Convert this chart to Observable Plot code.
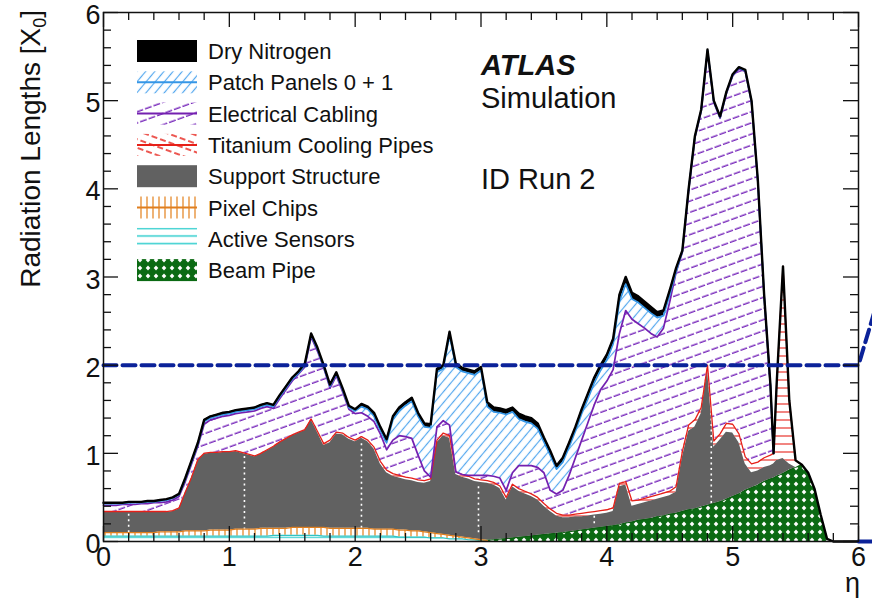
<!DOCTYPE html>
<html><head><meta charset="utf-8">
<script src="https://cdn.jsdelivr.net/npm/d3@7"></script>
<script src="https://cdn.jsdelivr.net/npm/@observablehq/plot@0.6"></script>
<style>html,body{margin:0;padding:0;background:#fff;overflow:hidden}</style>
</head><body><div id="chart"></div>
<script>
// ---- DATA (cumulative top edge of each material, radiation lengths X0, vs eta) ----
const eta = [
0,0.05,0.1,0.15,0.2,0.25,0.3,0.35,0.4,0.45,0.5,0.55,0.6,0.65,0.7,0.75,0.8,0.85,0.9,0.95,
1,1.05,1.1,1.15,1.2,1.25,1.3,1.35,1.4,1.45,1.5,1.55,1.6,1.65,1.7,1.75,1.8,1.85,1.9,1.95,
2,2.05,2.1,2.15,2.2,2.25,2.3,2.35,2.4,2.45,2.5,2.55,2.6,2.65,2.7,2.75,2.8,2.85,2.9,2.95,
3,3.05,3.1,3.15,3.2,3.25,3.3,3.35,3.4,3.45,3.5,3.55,3.6,3.65,3.7,3.75,3.8,3.85,3.9,3.95,
4,4.05,4.1,4.15,4.2,4.25,4.3,4.35,4.4,4.45,4.5,4.55,4.6,4.65,4.7,4.75,4.8,4.85,4.9,4.95,
5,5.05,5.1,5.15,5.2,5.25,5.3,5.325,5.35,5.4,5.45,5.5,5.55,5.6,5.65,5.7,5.75,5.8,5.85,5.9,5.95,
6];

const beamPipe = [
0,0,0,0,0,0,0,0,0,0,0,0,0,0,0,0,0,0,0,0,
0,0,0,0,0,0,0,0,0,0,0,0,0,0,0,0,0,0,0,0,
0,0,0,0,0,0,0,0,0,0,0,0,0,0,0,0,0,0,0,0.003,
0.007,0.013,0.02,0.026,0.032,0.04,0.047,0.055,0.062,0.07,0.078,0.086,0.094,0.10,0.11,0.12,0.13,0.14,0.15,0.16,
0.17,0.18,0.19,0.21,0.22,0.24,0.25,0.26,0.28,0.29,0.31,0.32,0.34,0.36,0.37,0.39,0.41,0.43,0.45,0.48,
0.51,0.54,0.58,0.61,0.64,0.68,0.71,0.72,0.74,0.77,0.81,0.84,0.87,0.78,0.60,0.30,0.03,0,0,0,0,
0];

const activeSensors = [
0.06,0.06,0.06,0.06,0.06,0.06,0.06,0.06,0.06,0.06,0.06,0.06,0.06,0.06,0.06,0.06,0.06,0.06,0.06,0.06,
0.06,0.06,0.06,0.06,0.06,0.06,0.06,0.07,0.07,0.07,0.07,0.07,0.07,0.07,0.07,0.06,0.06,0.06,0.06,0.06,
0.06,0.06,0.06,0.06,0.06,0.06,0.06,0.05,0.05,0.05,0.05,0.05,0.04,0.04,0.04,0.03,0.03,0.03,0.02,0.02,
0.015,0.013,0.02,0.026,0.032,0.04,0.047,0.055,0.062,0.07,0.078,0.086,0.094,0.10,0.11,0.12,0.13,0.14,0.15,0.16,
0.17,0.18,0.19,0.21,0.22,0.24,0.25,0.26,0.28,0.29,0.31,0.32,0.34,0.36,0.37,0.39,0.41,0.43,0.45,0.48,
0.51,0.54,0.58,0.61,0.64,0.68,0.71,0.72,0.74,0.77,0.81,0.84,0.87,0.78,0.60,0.30,0.03,0,0,0,0,
0];

const pixelChips = [
0.10,0.10,0.10,0.10,0.10,0.10,0.10,0.10,0.10,0.11,0.11,0.11,0.11,0.12,0.12,0.12,0.12,0.13,0.13,0.13,
0.13,0.14,0.14,0.14,0.14,0.15,0.15,0.15,0.15,0.15,0.16,0.16,0.16,0.16,0.16,0.16,0.15,0.15,0.15,0.15,
0.15,0.15,0.15,0.14,0.14,0.14,0.14,0.13,0.13,0.12,0.12,0.11,0.10,0.09,0.08,0.07,0.06,0.05,0.04,0.03,
0.02,0.013,0.02,0.026,0.032,0.04,0.047,0.055,0.062,0.07,0.078,0.086,0.094,0.10,0.11,0.12,0.13,0.14,0.15,0.16,
0.17,0.18,0.19,0.21,0.22,0.24,0.25,0.26,0.28,0.29,0.31,0.32,0.34,0.36,0.37,0.39,0.41,0.43,0.45,0.48,
0.51,0.54,0.58,0.61,0.64,0.68,0.71,0.72,0.74,0.77,0.81,0.84,0.87,0.78,0.60,0.30,0.03,0,0,0,0,
0];

const supportStructure = [
0.33,0.33,0.33,0.33,0.33,0.33,0.33,0.33,0.33,0.33,0.33,0.34,0.37,0.55,0.72,0.92,0.99,1.00,1.00,1.01,
1.01,1.02,1.00,0.98,0.96,0.99,1.03,1.07,1.12,1.16,1.20,1.23,1.26,1.38,1.24,1.09,1.12,1.22,1.21,1.16,
1.13,1.17,1.13,1.05,0.88,0.78,0.74,0.72,0.70,0.69,0.67,0.66,0.68,1.12,1.20,1.17,0.76,0.73,0.71,0.68,
0.67,0.66,0.64,0.60,0.47,0.62,0.57,0.54,0.51,0.47,0.40,0.34,0.29,0.27,0.27,0.28,0.28,0.29,0.30,0.31,
0.32,0.34,0.62,0.64,0.40,0.42,0.44,0.46,0.48,0.50,0.52,0.56,0.95,1.25,1.30,1.45,1.95,1.07,1.15,1.24,
1.23,1.12,0.88,0.78,0.80,0.84,0.86,0.88,0.92,0.94,0.88,0.84,0.87,0.78,0.60,0.30,0.03,0,0,0,0,
0];

const coolingPipes = [
0.34,0.34,0.34,0.34,0.34,0.34,0.34,0.34,0.34,0.34,0.34,0.35,0.38,0.56,0.73,0.93,1.00,1.01,1.01,1.02,
1.02,1.03,1.01,0.99,0.97,1.00,1.04,1.08,1.13,1.17,1.21,1.24,1.27,1.39,1.25,1.11,1.15,1.24,1.23,1.18,
1.15,1.19,1.15,1.07,0.91,0.81,0.77,0.75,0.73,0.72,0.70,0.69,0.71,1.15,1.23,1.20,0.79,0.76,0.74,0.71,
0.70,0.69,0.67,0.63,0.50,0.65,0.60,0.57,0.54,0.50,0.43,0.37,0.32,0.30,0.30,0.31,0.32,0.33,0.34,0.35,
0.36,0.38,0.66,0.68,0.46,0.47,0.49,0.51,0.53,0.55,0.57,0.62,1.02,1.32,1.38,1.52,2.00,1.14,1.22,1.34,
1.33,1.22,0.96,0.88,0.90,0.95,0.98,1.00,1.80,3.12,1.60,0.92,0.87,0.78,0.60,0.30,0.03,0,0,0,0,
0];

const electricalCabling = [
0.41,0.41,0.41,0.42,0.42,0.42,0.43,0.43,0.44,0.44,0.45,0.47,0.51,0.68,0.88,1.08,1.33,1.38,1.40,1.42,
1.43,1.45,1.46,1.47,1.48,1.51,1.53,1.51,1.62,1.72,1.82,1.90,1.98,2.32,2.16,1.97,1.74,1.88,1.70,1.50,
1.45,1.46,1.42,1.36,1.22,1.04,1.15,1.20,1.19,1.17,0.98,0.80,0.73,1.30,1.37,1.32,0.78,0.76,0.75,0.75,
0.75,0.75,0.74,0.72,0.58,0.78,0.86,0.86,0.86,0.84,0.78,0.58,0.54,0.58,0.75,0.95,1.15,1.35,1.55,1.72,
1.82,1.95,2.36,2.62,2.52,2.47,2.42,2.36,2.32,2.42,2.72,3.05,3.28,3.98,4.58,4.88,5.56,4.98,4.80,5.08,
5.28,5.36,5.33,4.98,4.08,2.78,1.76,1.00,1.80,3.12,1.60,0.92,0.87,0.78,0.60,0.30,0.03,0,0,0,0,
0];

const patchPanels = [
0.43,0.43,0.43,0.43,0.44,0.44,0.44,0.45,0.45,0.46,0.47,0.49,0.53,0.70,0.90,1.10,1.36,1.40,1.42,1.44,
1.45,1.47,1.48,1.49,1.50,1.53,1.55,1.53,1.64,1.74,1.84,1.91,2.00,2.34,2.18,1.98,1.76,1.90,1.72,1.52,
1.48,1.53,1.50,1.42,1.26,1.12,1.38,1.48,1.54,1.59,1.42,1.30,1.29,1.92,1.96,2.34,1.98,1.93,1.91,1.89,
1.94,1.53,1.47,1.46,1.44,1.47,1.39,1.36,1.34,1.28,1.13,0.98,0.82,0.90,1.07,1.25,1.45,1.62,1.80,1.94,
2.06,2.24,2.72,2.92,2.75,2.71,2.65,2.59,2.54,2.56,2.80,3.06,3.29,3.99,4.59,4.89,5.57,4.99,4.81,5.09,
5.29,5.37,5.34,4.99,4.09,2.79,1.77,1.00,1.80,3.12,1.60,0.92,0.87,0.78,0.60,0.30,0.03,0,0,0,0,
0];

const dryNitrogen = [
0.44,0.44,0.44,0.44,0.45,0.45,0.45,0.46,0.46,0.47,0.48,0.50,0.54,0.72,0.92,1.12,1.38,1.42,1.44,1.46,
1.47,1.49,1.50,1.51,1.52,1.55,1.57,1.55,1.66,1.76,1.86,1.93,2.02,2.36,2.20,2.00,1.78,1.92,1.74,1.54,
1.50,1.56,1.53,1.46,1.30,1.16,1.42,1.52,1.58,1.63,1.46,1.34,1.33,1.96,2.00,2.38,2.02,1.97,1.95,1.93,
1.98,1.58,1.52,1.51,1.49,1.52,1.45,1.42,1.40,1.34,1.18,1.03,0.86,0.95,1.12,1.30,1.50,1.68,1.86,2.00,
2.12,2.30,2.80,3.00,2.82,2.78,2.72,2.66,2.60,2.62,2.85,3.10,3.30,4.00,4.60,4.90,5.58,5.00,4.82,5.10,
5.30,5.38,5.35,5.00,4.10,2.80,1.78,1.00,1.80,3.12,1.60,0.92,0.87,0.78,0.60,0.30,0.03,0,0,0,0,
0];

// white dotted gaps inside the support structure
const gapEta  = [0.2, 1.12, 2.05, 2.98, 3.9, 4.83];
const gapLow  = [0.10, 0.13, 0.15, 0.10, 0.20, 0.43];
const gapHigh = [0.32, 0.97, 1.11, 0.62, 0.29, 1.88];

// dashed limit line
const limitEta = [0, 6, 6.25];
const limitVal = [2, 2, 3.2];
const baseEta = [6, 6.3];
const baseVal = [0, 0];

const xMajor = [0,1,2,3,4,5,6];
const xMinor = [0.2,0.4,0.6,0.8,1.2,1.4,1.6,1.8,2.2,2.4,2.6,2.8,3.2,3.4,3.6,3.8,4.2,4.4,4.6,4.8,5.2,5.4,5.6,5.8];
const yMajor = [0,1,2,3,4,5,6];
const yMinor = [0.2,0.4,0.6,0.8,1.2,1.4,1.6,1.8,2.2,2.4,2.6,2.8,3.2,3.4,3.6,3.8,4.2,4.4,4.6,4.8,5.2,5.4,5.6,5.8];

const layerNames = ["Beam Pipe","Active Sensors","Pixel Chips","Support Structure","Titanium Cooling Pipes","Electrical Cabling","Patch Panels 0 + 1","Dry Nitrogen"];
const tops = [beamPipe, activeSensors, pixelChips, supportStructure, coolingPipes, electricalCabling, patchPanels, dryNitrogen];

// ---- styles ----
const fills   = ["url(#pBeam)","url(#pSens)","url(#pChip)","#616161","url(#pCool)","url(#pCab)","url(#pPatch)","#000"];
const strokes = ["#0a5a10","#30c4c4","#e07f1f",null,"#e62018","#7420b0","#3596e6","#000"];
const swidth  = [1, 1.2, 1.3, 0, 1.3, 1.7, 1.7, 2.4];

const W = 872, H = 601, mL = 103, mR = 14, mT = 12, mB = 60;
const pxX = (W - mL - mR) / 6, pxY = (H - mT - mB) / 6;
const majX = 15 / pxY, minX = 8 / pxY;   // tick lengths for x ticks (in y units)
const majY = 15 / pxX, minY = 8 / pxX;   // tick lengths for y ticks (in x units)

// cumulative (clamped) stacks
const cum = [];
tops.forEach((t, k) => {
  cum.push(t.map((v, i) => k === 0 ? v : Math.max(v, cum[k-1][i])));
});
const layers = cum.map((c, k) => eta.map((e, i) => ({eta: e, lo: k === 0 ? 0 : cum[k-1][i], hi: c[i]})));

const marks = [];
layers.forEach((rows, k) => {
  marks.push(Plot.areaY(rows, {x: "eta", y1: "lo", y2: "hi", fill: fills[k]}));
});
// gaps
marks.push(Plot.ruleX(gapEta, {x: d => d, y1: (d,i) => gapLow[i], y2: (d,i) => gapHigh[i], stroke: "white", strokeWidth: 1.6, strokeDasharray: "2,3.5"}));
layers.forEach((rows, k) => {
  if (!strokes[k]) return;
  const last = k === layers.length - 1;
  marks.push(Plot.line(rows, {
    x: "eta",
    y: last ? "hi" : (d, i) => {
      const prev = rows[i - 1], next = rows[i + 1];
      const has = r => r && r.hi - r.lo > 0.004;
      return (has(d) || has(prev) || has(next)) ? d.hi : NaN;
    },
    stroke: strokes[k], strokeWidth: swidth[k]
  }));
});
// limit lines
marks.push(Plot.line(limitEta, {x: d => d, y: (d,i) => limitVal[i], stroke: "#0b2299", strokeWidth: 4, strokeDasharray: "13,6"}));
marks.push(Plot.line(baseEta, {x: d => d, y: (d,i) => baseVal[i], stroke: "#0b2299", strokeWidth: 4, strokeDasharray: "13,6"}));
// ticks (inside, all four sides)
const tk = {stroke: "#111", strokeWidth: 1.3};
marks.push(Plot.ruleX(xMajor, {x: d => d, y1: 0, y2: majX, ...tk}));
marks.push(Plot.ruleX(xMinor, {x: d => d, y1: 0, y2: minX, ...tk}));
marks.push(Plot.ruleX(xMajor, {x: d => d, y1: 6, y2: 6 - majX, ...tk}));
marks.push(Plot.ruleX(xMinor, {x: d => d, y1: 6, y2: 6 - minX, ...tk}));
marks.push(Plot.ruleY(yMajor, {y: d => d, x1: 0, x2: majY, ...tk}));
marks.push(Plot.ruleY(yMinor, {y: d => d, x1: 0, x2: minY, ...tk}));
marks.push(Plot.ruleY(yMajor, {y: d => d, x1: 6, x2: 6 - majY, ...tk}));
marks.push(Plot.ruleY(yMinor, {y: d => d, x1: 6, x2: 6 - minY, ...tk}));
marks.push(Plot.frame({stroke: "#111", strokeWidth: 1.5}));
// y tick labels (slightly below their ticks, as in ROOT output)
marks.push(Plot.text(yMajor, {y: d => d, text: d => String(d), frameAnchor: "left", textAnchor: "end", dx: -3, dy: 3, fontSize: 27, fill: "#111"}));

const chart = Plot.plot({
  width: W, height: H,
  marginLeft: mL, marginRight: mR, marginTop: mT, marginBottom: mB,
  style: {fontFamily: "'Liberation Sans', Arial, sans-serif", fontSize: "27px", color: "#111", background: "white", overflow: "hidden"},
  x: {domain: [0, 6], ticks: xMajor, tickSize: 0, tickPadding: 5, label: null, tickFormat: d => String(d)},
  y: {domain: [0, 6], axis: null},
  marks
});
document.getElementById("chart").appendChild(chart);

// ---- patterns ----
const svg = d3.select(chart);
const defs = svg.insert("defs", ":first-child");
function pat(id, w, h, transform, draw) {
  const p = defs.append("pattern").attr("id", id).attr("patternUnits", "userSpaceOnUse")
    .attr("width", w).attr("height", h);
  if (transform) p.attr("patternTransform", transform);
  draw(p);
}
pat("pBeam", 8, 8, null, p => {
  p.append("rect").attr("width", 8).attr("height", 8).attr("fill", "#0b6a13");
  p.append("path").attr("d", "M4,1.5 L6.3,4 L4,6.5 L1.7,4 Z").attr("fill", "white");
});
pat("pSens", 6, 4.5, null, p => {
  p.append("line").attr("x1", 0).attr("x2", 6).attr("y1", 2).attr("y2", 2).attr("stroke", "#3cd0d0").attr("stroke-width", 1.3);
});
pat("pSensLeg", 6, 7.5, null, p => {
  p.append("line").attr("x1", 0).attr("x2", 6).attr("y1", 3.5).attr("y2", 3.5).attr("stroke", "#3cd0d0").attr("stroke-width", 1.6);
});
pat("pChip", 6, 6, null, p => {
  p.append("line").attr("x1", 3).attr("x2", 3).attr("y1", 0).attr("y2", 6).attr("stroke", "#e5892a").attr("stroke-width", 1.3);
});
pat("pCool", 8, 8, null, p => {
  p.append("line").attr("x1", 0).attr("x2", 8).attr("y1", 4).attr("y2", 4).attr("stroke", "#e62018").attr("stroke-width", 1.1);
});
pat("pCoolLeg", 18, 8, "rotate(20)", p => {
  p.append("line").attr("x1", 0).attr("x2", 18).attr("y1", 4).attr("y2", 4).attr("stroke", "#e62018").attr("stroke-width", 1.3).attr("stroke-dasharray", "6,3");
});
pat("pCab", 18, 10.5, "rotate(-20)", p => {
  p.append("line").attr("x1", 0).attr("x2", 18).attr("y1", 5).attr("y2", 5).attr("stroke", "#7a2cbc").attr("stroke-width", 1.5).attr("stroke-dasharray", "7,2");
});
pat("pPatch", 7, 7, "rotate(40)", p => {
  p.append("line").attr("x1", 3.5).attr("x2", 3.5).attr("y1", 0).attr("y2", 7).attr("stroke", "#55a8ee").attr("stroke-width", 1.2);
});

// ---- legend ----
const legend = [
  {name: "Dry Nitrogen", fill: "#000", line: null},
  {name: "Patch Panels 0 + 1", fill: "url(#pPatch)", line: "#3596e6"},
  {name: "Electrical Cabling", fill: "url(#pCab)", line: "#7420b0"},
  {name: "Titanium Cooling Pipes", fill: "url(#pCoolLeg)", line: "#e62018"},
  {name: "Support Structure", fill: "#616161", line: null},
  {name: "Pixel Chips", fill: "url(#pChip)", line: "#e07f1f"},
  {name: "Active Sensors", fill: "url(#pSensLeg)", line: null},
  {name: "Beam Pipe", fill: "url(#pBeam)", line: null}
];
const lg = svg.append("g").attr("text-anchor", "start");
legend.forEach((d, i) => {
  const cy = 51 + i * 31.3;
  lg.append("rect").attr("x", 137).attr("y", cy - 11).attr("width", 60).attr("height", 22).attr("fill", d.fill);
  if (d.line) lg.append("line").attr("x1", 137).attr("x2", 197).attr("y1", cy).attr("y2", cy).attr("stroke", d.line).attr("stroke-width", 2);
  lg.append("text").attr("x", 208).attr("y", cy + 8).attr("text-anchor", "start").attr("fill", "#111").style("font-size", "22px").text(d.name);
});

// ---- annotations ----
const ann = svg.append("g").attr("text-anchor", "start").attr("fill", "#111");
ann.append("text").attr("x", 481).attr("y", 75).attr("text-anchor", "start").style("font-size", "29px").style("font-weight", "bold").style("font-style", "italic").text("ATLAS");
ann.append("text").attr("x", 481).attr("y", 108).attr("text-anchor", "start").style("font-size", "29px").text("Simulation");
ann.append("text").attr("x", 481).attr("y", 189).attr("text-anchor", "start").style("font-size", "29px").text("ID Run 2");

const yt = svg.append("text").attr("transform", "translate(40,10) rotate(-90)").attr("text-anchor", "end").style("font-size", "28px").attr("fill", "#111");
yt.append("tspan").text("Radiation Lengths [X");
yt.append("tspan").attr("dy", 6).style("font-size", "18px").text("0");
yt.append("tspan").attr("dy", -6).text("]");

svg.append("text").attr("x", 860).attr("y", 592).attr("text-anchor", "end").style("font-size", "27px").attr("fill", "#111").text("η");
</script>
</body></html>
